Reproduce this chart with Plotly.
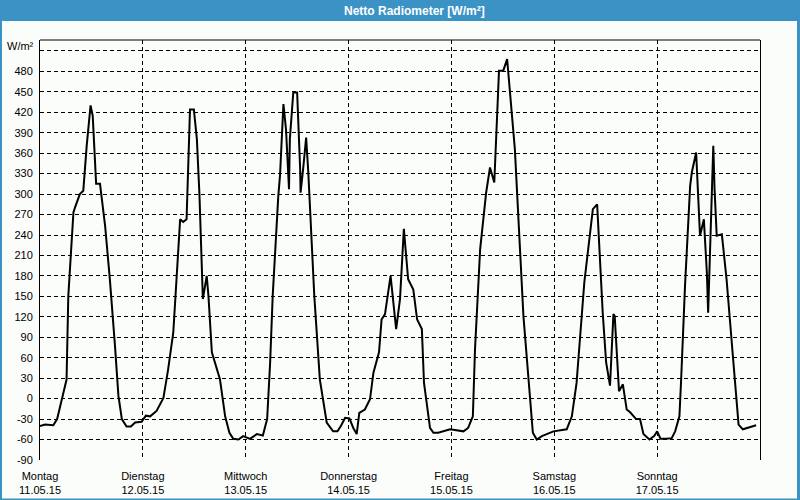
import pandas as pd
import plotly.graph_objects as go

# Hours since Monday 11.05.2015 00:00
hours = [0.0, 1.2, 3.1, 4.0, 5.1, 6.2, 6.6, 7.8, 8.2, 9.3, 10.1, 10.9, 11.8, 12.3, 13.1, 14.0,
         15.2, 16.3, 17.5, 18.3, 19.1, 20.2, 21.2, 22.2, 23.7, 24.7, 25.7, 27.2, 28.8, 29.9,
         31.1, 32.0, 32.7, 33.4, 34.2, 35.0, 35.9, 36.6, 37.2, 38.0, 38.9, 39.3, 40.1, 42.0,
         43.2, 44.2, 45.1, 46.3, 47.4, 49.0, 50.6, 52.0, 53.0, 53.7, 54.3, 55.6, 56.0, 56.8,
         57.4, 58.1, 58.3, 59.1, 60.0, 60.7, 60.8, 61.4, 62.1, 62.6, 64.0, 65.3, 66.9, 68.4,
         69.4, 70.2, 71.2, 72.2, 73.1, 73.9, 74.5, 75.8, 77.0, 77.8, 79.1, 79.7, 80.5, 81.8,
         83.1, 84.0, 84.9, 85.9, 87.1, 88.0, 89.1, 89.6, 91.0, 91.8, 92.9, 95.7, 98.8, 99.9,
         101.0, 101.5, 102.7, 104.1, 105.0, 106.0, 107.1, 108.1, 109.0, 110.8, 112.8, 115.0,
         115.9, 117.1, 119.8, 122.9, 124.1, 125.2, 127.0, 129.0, 130.0, 131.3, 132.1, 133.0,
         133.8, 134.1, 135.1, 136.0, 136.9, 137.7, 139.1, 140.0, 140.8, 142.2, 143.3, 144.0,
         144.8, 146.1, 147.4, 148.2, 149.2, 149.6, 150.5, 151.7, 152.1, 153.1, 154.0, 154.9,
         155.6, 155.9, 156.5, 157.1, 157.4, 157.9, 159.1, 160.2, 161.6, 163.0, 164.0, 164.9,
         167.1]

values = [-40, -38, -39, -30, -1, 28, 150, 273, 281, 300, 305, 371, 430, 415, 315, 315,
          253, 175, 77, 4, -30, -41, -41, -35, -34, -25, -26, -18, 1, 43,
          97, 185, 263, 259, 263, 424, 424, 381, 300, 146, 180, 151, 68, 28,
          -26, -50, -59, -60, -55, -59, -52, -54, -30, 53, 151, 297, 327, 432,
          395, 307, 381, 449, 449, 337, 302, 337, 383, 332, 151, 28, -35, -48,
          -48, -40, -28, -29, -43, -52, -21, -16, -1, 38, 68, 116, 124, 180,
          102, 146, 249, 175, 160, 116, 102, 23, -43, -50, -50, -45, -48, -43,
          -26, 72, 219, 302, 339, 317, 481, 481, 498, 366, 121, -50,
          -60, -55, -48, -45, -26, 23, 170, 278, 285, 126, 53, 19,
          124, 121, 11, 21, -16, -20, -30, -30, -52, -60, -55, -48,
          -59, -59, -58, -48, -26, 28, 165, 312, 332, 361, 239, 263,
          185, 126, 249, 371, 307, 239, 241, 175, 68, -38, -45, -43,
          -39]

day_names = ["Montag", "Dienstag", "Mittwoch", "Donnerstag", "Freitag", "Samstag", "Sonntag"]
day_dates = ["11.05.15", "12.05.15", "13.05.15", "14.05.15", "15.05.15", "16.05.15", "17.05.15"]
y_ticks = [-90, -60, -30, 0, 30, 60, 90, 120, 150, 180, 210, 240, 270, 300, 330, 360, 390,
           420, 450, 480, 510]
y_labels = [str(v) for v in y_ticks[:-1]] + [""]

base = pd.Timestamp("2015-05-11 00:00")
times = [base + pd.Timedelta(hours=h) for h in hours]
day_ticks = [base + pd.Timedelta(days=i) for i in range(7)]
day_text = [f"{n}<br>{d}" for n, d in zip(day_names, day_dates)]

FONT = "Liberation Sans"
BLUE = "#3b92c5"
BG = "#fbfdfb"

fig = go.Figure()
fig.add_trace(go.Scatter(x=times, y=values, mode="lines",
                         line=dict(color="black", width=2), hoverinfo="skip"))

# pixel -> paper helpers (plot area: x 40..760, y 40..460)
def px(x):
    return (x - 40) / 720.0

def py(y):
    return (460 - y) / 420.0

shapes = [
    # title bar
    dict(type="rect", xref="paper", yref="paper", x0=px(0), x1=px(800), y0=py(21), y1=py(0),
         fillcolor=BLUE, line=dict(width=0), layer="below"),
    # window borders
    dict(type="rect", xref="paper", yref="paper", x0=px(0), x1=px(2), y0=py(500), y1=py(0),
         fillcolor=BLUE, line=dict(width=0), layer="below"),
    dict(type="rect", xref="paper", yref="paper", x0=px(797), x1=px(800), y0=py(500), y1=py(0),
         fillcolor=BLUE, line=dict(width=0), layer="below"),
    dict(type="rect", xref="paper", yref="paper", x0=px(0), x1=px(800), y0=py(500), y1=py(498.5),
         fillcolor=BLUE, line=dict(width=0), layer="below"),
    # top frame line
    dict(type="line", xref="paper", yref="paper", x0=0, x1=1, y0=1, y1=1,
         line=dict(color="black", width=1)),
]

fig.update_layout(
    width=800, height=500,
    margin=dict(l=40, r=40, t=40, b=40),
    paper_bgcolor=BG, plot_bgcolor=BG,
    showlegend=False,
    font=dict(family=FONT, size=11, color="black"),
    shapes=shapes,
    annotations=[
        dict(text="<b>Netto Radiometer [W/m²]</b>", xref="paper", yref="paper",
             x=px(414), y=py(10.5), xanchor="center", yanchor="middle", showarrow=False,
             font=dict(family=FONT, size=12, color="white")),
        dict(text="W/m²", xref="paper", yref="paper", x=px(36), y=py(46),
             xanchor="right", yanchor="middle", showarrow=False,
             font=dict(family=FONT, size=11, color="black")),
    ],
)

fig.update_xaxes(
    type="date", range=[base, base + pd.Timedelta(days=7)],
    tickvals=day_ticks, ticktext=day_text, ticks="", ticklabelstandoff=8,
    automargin=False,
    showgrid=True, gridcolor="black", gridwidth=1, griddash="4px,3px",
    showline=False, zeroline=False, fixedrange=True,
)
fig.update_yaxes(
    range=[-90, 526], tickvals=y_ticks, ticktext=y_labels, ticks="", ticklabelstandoff=4,
    automargin=False,
    showgrid=True, gridcolor="black", gridwidth=1, griddash="4px,3px",
    showline=True, mirror=True, linecolor="black", linewidth=1,
    zeroline=False, fixedrange=True,
)

fig.write_html("out.html")
